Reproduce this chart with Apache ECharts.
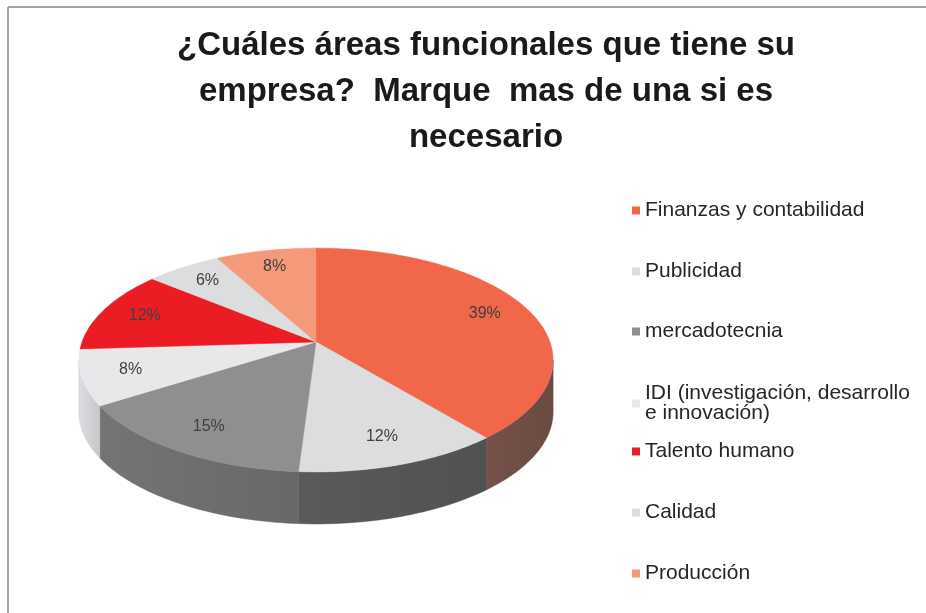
<!DOCTYPE html>
<html><head><meta charset="utf-8">
<script src="https://cdn.jsdelivr.net/npm/echarts@6/dist/echarts.min.js"></script>
<style>html,body{margin:0;padding:0;background:#fff}#c{width:926px;height:613px}</style>
</head><body><div id="c"></div>
<script>
// ---- data ----
const categories = ['Finanzas y contabilidad', 'Publicidad', 'mercadotecnia', 'IDI (investigación, desarrollo e innovación)', 'Talento humano', 'Calidad', 'Producción'];
const values = [39, 12, 15, 8, 12, 6, 8];
const titleText = '¿Cuáles áreas funcionales que tiene su\nempresa?  Marque  mas de una si es\nnecesario';

// ---- styles ----
const topColors = ['#f0674a', '#dcdddf', '#8e8f91', '#e7e8e9', '#ec1c24', '#dcdddf', '#f4997a'];
const sideColors = ['#6a4a42', '#505153', '#68686b', '#c6c7c9', '#8c1218', '#a9aaac', '#a45e4a'];
const legendTops = [200, 261, 321, 383, 441, 502, 563];

const chart = echarts.init(document.getElementById('c'), null, {renderer: 'canvas'});
const total = values.reduce((a, b) => a + b, 0);
const P = {cx: 316, cy: 342, rx: 234, ry: 109, k: 0.161, depth: 52};
const visMin = Math.acos(-P.k) * 180 / Math.PI;
const visMax = 360 - visMin;

function proj(deg, r) {
  const t = deg * Math.PI / 180;
  const u = Math.sin(t) * r, v = Math.cos(t) * r;
  const w = 1 + P.k * v;
  return [P.cx + P.rx * u / w, P.cy - P.ry * v / w];
}

function makeRender(i) {
  return function (params, api) {
    const val = api.value(0);
    let start = 0;
    for (let j = 0; j < i; j++) start += values[j];
    const a0 = start / total * 360, a1 = (start + val) / total * 360;
    const pts = [[P.cx, P.cy]];
    const n = Math.max(2, Math.ceil(a1 - a0));
    for (let s = 0; s <= n; s++) pts.push(proj(a0 + (a1 - a0) * s / n, 1));
    const children = [{type: 'polygon', z2: 10, shape: {points: pts}, style: {fill: topColors[i], stroke: topColors[i], lineWidth: 0.5}}];
    const lo = Math.max(a0, visMin), hi = Math.min(a1, visMax);
    if (hi > lo) {
      const top = [], bot = [];
      const m = Math.max(2, Math.ceil(hi - lo));
      for (let s = 0; s <= m; s++) {
        const p = proj(lo + (hi - lo) * s / m, 1);
        top.push(p);
        bot.push([p[0], p[1] + P.depth]);
      }
      children.push({
        type: 'polygon', z2: 1,
        shape: {points: top.concat(bot.reverse())},
        style: {
          fill: new echarts.graphic.LinearGradient(0, 0, 1, 0, [
            {offset: 0, color: echarts.color.lift(sideColors[i], -0.12)},
            {offset: 1, color: sideColors[i]}
          ]),
          stroke: sideColors[i], lineWidth: 0.5
        }
      });
    }
    const lp = proj((a0 + a1) / 2, 0.8);
    children.push({
      type: 'text', z2: 20, x: lp[0], y: lp[1],
      style: {text: val + '%', fill: '#404040', font: '16px "Liberation Sans", Arial, sans-serif',
        align: 'center', verticalAlign: 'middle', textAlign: 'center', textVerticalAlign: 'middle'}
    });
    return {type: 'group', children: children};
  };
}

const series = categories.map((name, i) => ({
  type: 'custom',
  name: name,
  coordinateSystem: 'none',
  data: [values[i]],
  itemStyle: {color: topColors[i]},
  renderItem: makeRender(i),
  silent: true
}));

const legends = categories.map((name, i) => ({
  data: [name],
  left: 632,
  top: legendTops[i],
  padding: 0,
  icon: 'rect',
  itemWidth: 8,
  itemHeight: 8,
  selectedMode: false,
  formatter: n => n.replace('desarrollo e ', 'desarrollo\ne '),
  textStyle: {
    fontFamily: '"Liberation Sans", Arial, sans-serif',
    fontSize: 21,
    lineHeight: 20,
    color: '#262626'
  }
}));

chart.setOption({
  backgroundColor: '#ffffff',
  animation: false,
  title: {
    text: titleText,
    left: 486,
    top: 23,
    padding: 0,
    textAlign: 'center',
    textStyle: {
      fontFamily: '"Liberation Sans", Arial, sans-serif',
      fontWeight: 'bold',
      fontSize: 33,
      lineHeight: 46,
      color: '#1a1a1a'
    }
  },
  legend: legends,
  graphic: [
    {type: 'line', silent: true, shape: {x1: 8, y1: 7, x2: 926, y2: 7}, style: {stroke: '#a6a6a6', lineWidth: 2}},
    {type: 'line', silent: true, shape: {x1: 8, y1: 7, x2: 8, y2: 613}, style: {stroke: '#a6a6a6', lineWidth: 2}}
  ],
  series: series
});
</script>
</body></html>
